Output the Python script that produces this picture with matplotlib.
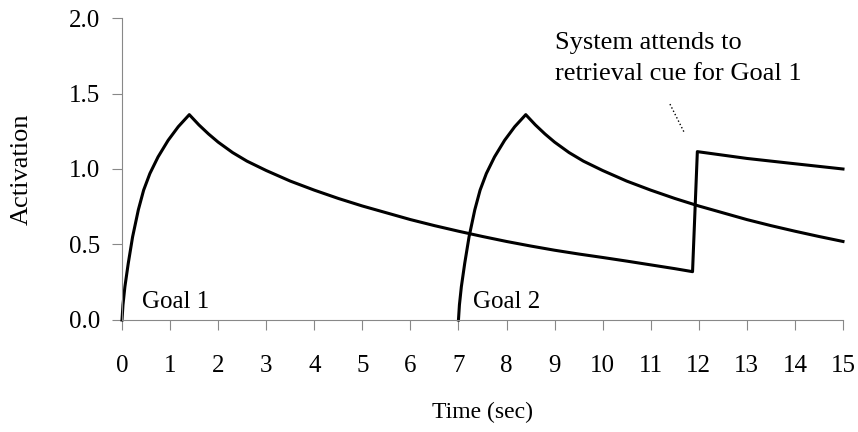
import matplotlib.pyplot as plt

# ================= DATA =================

goal1_time = [0.0, 0.02, 0.06, 0.13, 0.22, 0.34, 0.45, 0.58, 0.75, 0.96, 1.17, 1.4,
              1.6, 1.8, 2.0, 2.3, 2.6, 3.0, 3.5, 4.0, 4.5, 5.0, 5.5, 6.0, 6.5,
              7.0, 7.5, 8.0, 8.5, 9.0, 9.5, 10.0, 10.5, 11.0, 11.5, 11.87,
              11.97, 13.0, 13.85, 15.0]
goal1_act = [0.0, 0.10, 0.22, 0.375, 0.55, 0.73, 0.86, 0.97, 1.08, 1.19, 1.28, 1.36,
             1.292, 1.232, 1.178, 1.109, 1.052, 0.99, 0.92, 0.86, 0.805, 0.755, 0.71, 0.665, 0.625,
             0.588, 0.553, 0.52, 0.49, 0.462, 0.437, 0.414, 0.39, 0.365, 0.34, 0.32,
             1.115, 1.07, 1.04, 1.0]

goal2_time = [7.0, 7.02, 7.06, 7.13, 7.22, 7.34, 7.45, 7.58, 7.75, 7.96, 8.17, 8.4,
              8.6, 8.8, 9.0, 9.3, 9.6, 10.0, 10.5, 11.0, 11.5, 12.0, 12.5, 13.0, 13.5,
              14.0, 14.5, 15.0]
goal2_act = [0.0, 0.10, 0.22, 0.375, 0.55, 0.73, 0.86, 0.97, 1.08, 1.19, 1.28, 1.36,
             1.292, 1.232, 1.178, 1.109, 1.052, 0.99, 0.92, 0.86, 0.805, 0.755, 0.71, 0.665, 0.625,
             0.588, 0.553, 0.52]

x_ticks = list(range(0, 16))
y_ticks = [0.0, 0.5, 1.0, 1.5, 2.0]

# ================= PLOT =================

plt.rcParams['font.family'] = ['Liberation Serif', 'DejaVu Serif']

fig = plt.figure(figsize=(8.58, 4.32), dpi=100)
ax = fig.add_axes([0.1422, 0.2593, 0.8403, 0.699])

ax.plot(goal1_time, goal1_act, color='black', linewidth=2.2, clip_on=False)
ax.plot(goal2_time, goal2_act, color='black', linewidth=2.2, clip_on=False)

ax.set_xlim(0, 15)
ax.set_ylim(0, 2.0)
ax.set_xticks(x_ticks)
ax.set_yticks(y_ticks)
ax.set_yticklabels([f"{v:.1f}" for v in y_ticks])

for side in ['top', 'right']:
    ax.spines[side].set_visible(False)
for side in ['left', 'bottom']:
    ax.spines[side].set_color('#888888')
    ax.spines[side].set_linewidth(0.8)

ax.tick_params(axis='both', colors='#888888', labelcolor='black', labelsize=18,
               width=0.8, length=7, direction='out')
ax.tick_params(axis='x', pad=18)
ax.tick_params(axis='y', pad=9)

ax.set_xlabel("Time (sec)", fontsize=17, labelpad=18)
ax.set_ylabel("Activation", fontsize=19, labelpad=26)

ax.text(0.42, 0.12, "Goal 1", fontsize=18, va='center')
ax.text(7.3, 0.12, "Goal 2", fontsize=18, va='center')
ax.text(9.0, 1.73, "System attends to\nretrieval cue for Goal 1", fontsize=19,
        va='center', linespacing=1.55)
ax.plot([11.4, 11.7], [1.43, 1.24], color='black', linestyle=':', linewidth=1.0)

plt.savefig("out.png", dpi=100)
